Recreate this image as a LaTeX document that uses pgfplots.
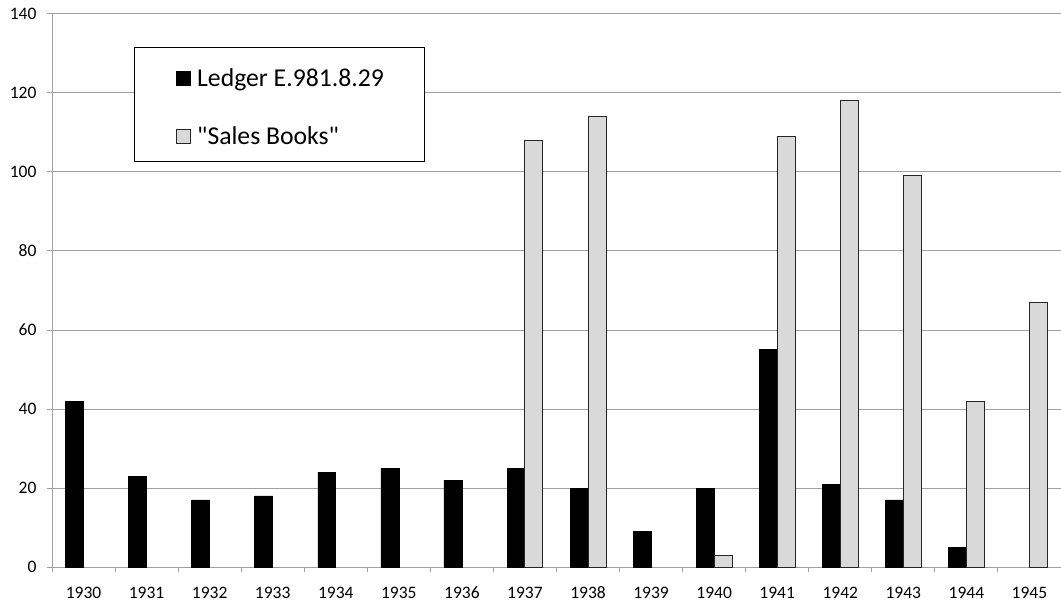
\documentclass[border=0pt]{standalone}
\usepackage{fontspec}
\setmainfont{Carlito}
\newfontfamily\legfont{Carlito}
\usepackage{pgfplots}
\pgfplotsset{compat=1.18}
\definecolor{barGray}{RGB}{217,217,217}
\definecolor{gridGray}{RGB}{160,160,160}
\begin{document}
\begin{tikzpicture}
\begin{axis}[
  scale only axis, width=1009pt, height=553pt,
  xmin=-0.5, xmax=15.5, ymin=0, ymax=140,
  ybar=0pt, bar width=0.285,
  ytick={0,20,...,140},
  ymajorgrids, major grid style={gridGray, line width=1pt},
  axis x line*=bottom, axis y line*=left,
  axis line style={gridGray, line width=1pt},
  tick align=outside, major tick length=5pt,
  tick style={gridGray, line width=1pt},
  xtick={-0.5,0.5,...,15.5}, xticklabels={},
  extra x ticks={0,1,...,15},
  extra x tick labels={1930,1931,1932,1933,1934,1935,1936,1937,1938,1939,1940,1941,1942,1943,1944,1945},
  extra x tick style={major tick length=0pt, tick label style={yshift=-17pt, text height=11pt, text depth=0pt}},
  ticklabel style={font=\fontsize{17.5}{20}\selectfont},
  every y tick label/.append style={anchor=east, xshift=-7pt},
  /pgf/number format/assume math mode=true,
  legend cell align=left,
  legend image code/.code={\draw[#1] (0pt,-7pt) rectangle (14pt,7pt); \path (20pt,0pt);},
  legend style={at={(0.1229,0.9024)}, anchor=north west, draw=none, fill=none,
    font=\legfont\fontsize{25.7}{31}\selectfont, inner sep=0pt,
    row sep=39pt, nodes={inner sep=0pt}},
]
\draw[black, line width=1pt, fill=white] (rel axis cs:0.08127,0.73237) rectangle (rel axis cs:0.36868,0.93852);
\addplot[fill=black, draw=black, line width=0.6pt] coordinates {(0,42)(1,23)(2,17)(3,18)(4,24)(5,25)(6,22)(7,25)(8,20)(9,9)(10,20)(11,55)(12,21)(13,17)(14,5)};
\addlegendentry{Ledger E.981.8.29}
\addplot[fill=barGray, draw=black!85, line width=1pt] coordinates {(7,108)(8,114)(10,3)(11,109)(12,118)(13,99)(14,42)(15,67)};
\addlegendentry{"Sales Books"}
\end{axis}
\pgfresetboundingbox
\path[use as bounding box] ([xshift=-52pt,yshift=-35pt]current axis.south west) rectangle ([yshift=14pt]current axis.north east);
\end{tikzpicture}
\end{document}
